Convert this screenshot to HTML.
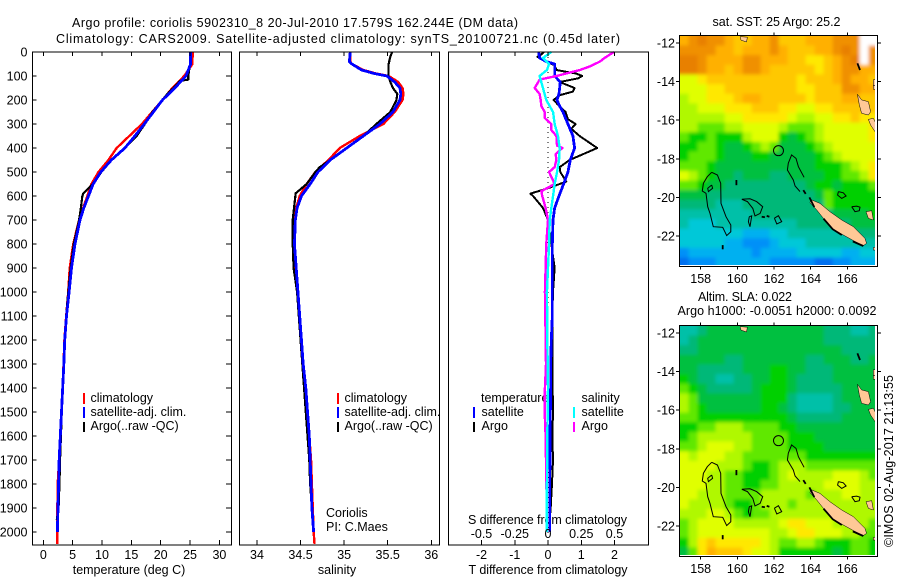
<!DOCTYPE html>
<html>
<head>
<meta charset="utf-8">
<style>
html,body{margin:0;padding:0;background:#fff;}
svg{display:block;}
text{font-family:"Liberation Sans",sans-serif;font-size:12.5px;fill:#000;}
.box{fill:none;stroke:#000;stroke-width:1.2;shape-rendering:crispEdges;}
.tick{stroke:#000;stroke-width:1;shape-rendering:crispEdges;}
.prof{fill:none;stroke-linejoin:round;shape-rendering:crispEdges;}
</style>
</head>
<body>
<svg id="chart" width="900" height="580" viewBox="0 0 900 580" xmlns="http://www.w3.org/2000/svg">
<defs>
<filter id="soft" x="-5%" y="-5%" width="110%" height="110%"><feGaussianBlur stdDeviation="1.8"/></filter>
<clipPath id="clip-map-1"><rect x="679.5" y="35.5" width="195.5" height="229.5"/></clipPath>
<clipPath id="clip-map-2"><rect x="679.5" y="325.5" width="195.5" height="229.5"/></clipPath>
</defs>
<text x="72" y="27" font-size="13" textLength="446" lengthAdjust="spacing">Argo profile: coriolis 5902310_8 20-Jul-2010 17.579S 162.244E (DM data)</text>
<text x="56" y="43" font-size="13" textLength="564" lengthAdjust="spacing">Climatology: CARS2009. Satellite-adjusted climatology: synTS_20100721.nc (0.45d later)</text>

<text x="129" y="574" text-anchor="middle">temperature (deg C)</text>
<text x="337" y="574" text-anchor="middle">salinity</text>
<text x="548" y="574" text-anchor="middle" textLength="159" lengthAdjust="spacing">T difference from climatology</text>
<text x="547.5" y="524" text-anchor="middle" textLength="159" lengthAdjust="spacing">S difference from climatology</text>

<g>
<rect x="83" y="393" width="2" height="11" fill="#f00"/>
<rect x="83" y="407" width="2" height="11" fill="#00f"/>
<rect x="83" y="422" width="2" height="10" fill="#000"/>
<text x="90.5" y="402">climatology</text>
<text x="90.5" y="416">satellite-adj. clim.</text>
<text x="90.5" y="430">Argo(..raw -QC)</text>
</g>
<g>
<rect x="337" y="393" width="2" height="11" fill="#f00"/>
<rect x="337" y="407" width="2" height="11" fill="#00f"/>
<rect x="337" y="422" width="2" height="10" fill="#000"/>
<text x="344.5" y="402">climatology</text>
<text x="344.5" y="416">satellite-adj. clim.</text>
<text x="344.5" y="430">Argo(..raw -QC)</text>
<text x="326" y="517">Coriolis</text>
<text x="326" y="531">PI: C.Maes</text>
</g>
<g>
<text x="481" y="402">temperature</text>
<text x="481.5" y="416">satellite</text>
<text x="481.5" y="430">Argo</text>
<rect x="473" y="407" width="2" height="11" fill="#00f"/>
<rect x="473" y="422" width="2" height="10" fill="#000"/>
<text x="581.5" y="402">salinity</text>
<text x="581.5" y="416">satellite</text>
<text x="581.5" y="430">Argo</text>
<rect x="573" y="407" width="2" height="11" fill="#0ff"/>
<rect x="573" y="422" width="2" height="10" fill="#f0f"/>
</g>

<text x="776.5" y="26" text-anchor="middle" textLength="128" lengthAdjust="spacing">sat. SST: 25 Argo: 25.2</text>
<text x="698" y="301" textLength="94" lengthAdjust="spacing">Altim. SLA: 0.022</text>
<text x="677.5" y="315" textLength="199" lengthAdjust="spacing">Argo h1000: -0.0051 h2000: 0.0092</text>
<text transform="translate(893,547) rotate(-90)" textLength="172" lengthAdjust="spacing">©IMOS 02-Aug-2017 21:13:55</text>

<g id="layer"></g>
</svg>
<script>
/* ---------- axis ticks ---------- */
const depthTicks = [0,100,200,300,400,500,600,700,800,900,1000,1100,1200,1300,1400,1500,1600,1700,1800,1900,2000];
const tempTicks = [0,5,10,15,20,25,30];
const salTicks = [34,34.5,35,35.5,36];
const tDiffTicks = [-2,-1,0,1,2];
const sDiffTicks = [-0.5,-0.25,0,0.25,0.5];
const lonTicks = [158,160,162,164,166];
const latTicks = [-12,-14,-16,-18,-20,-22];

/* ---------- temperature panel ---------- */
const tempClimDepth = [0,50,100,150,200,300,400,450,500,550,600,650,700,800,900,1000,1100,1200,1300,1400,1500,1600,1700,1800,1900,2000,2050];
const tempClim = [25.45,25.4,24.0,22,20.3,16.8,12.5,11.1,9.4,8.2,7.5,6.8,6.1,5.1,4.5,4.25,3.9,3.6,3.45,3.3,3.1,2.9,2.7,2.45,2.4,2.4,2.4];
const tempSatDepth = [0,50,100,150,200,250,300,350,400,450,500,550,600,650,700,800,900,1000,1100,1200,1300,1400,1500,1600,1700,1800,1900,2000];
const tempSat = [25.1,25.1,24.3,22.4,20.3,18.75,17.2,15.6,13.9,11.6,9.8,8.5,7.7,6.9,6.25,5.4,4.8,4.4,3.95,3.65,3.5,3.3,3.1,2.9,2.7,2.6,2.5,2.4];
const tempArgoDepth = [0,50,100,115,120,150,170,200,250,300,350,400,450,500,550,590,600,650,700,800,900,1000,1100,1200,1300,1400,1500,1600,1700,1800,1900,1950];
const tempArgo = [25,25,24.7,24.7,23.3,22.2,21.3,20.3,18.6,17.3,15.9,13.9,11.6,9.9,8.4,6.8,6.65,6.4,6.1,5.2,4.66,4.26,3.9,3.65,3.5,3.35,3.15,3.0,2.85,2.75,2.6,2.3];

/* ---------- salinity panel ---------- */
const salClimDepth = [0,40,50,75,90,100,125,150,175,200,250,300,350,400,450,500,550,600,650,700,800,900,1000,1100,1200,1300,1400,1500,1600,1700,1800,1900,2000,2050];
const salClim = [35.07,35.07,35.09,35.22,35.37,35.51,35.62,35.67,35.68,35.67,35.58,35.45,35.18,34.95,34.82,34.67,34.57,34.49,34.45,34.42,34.42,34.44,34.46,34.49,34.51,34.53,34.56,34.58,34.6,34.62,34.63,34.64,34.65,34.66];
const salSatDepth = [0,40,50,75,90,100,125,150,175,200,250,300,350,400,450,500,550,600,650,700,800,900,1000,1100,1200,1300,1400,1500,1600,1700,1800,1900,2000];
const salSat = [35.07,35.06,35.09,35.2,35.35,35.49,35.58,35.64,35.65,35.64,35.56,35.41,35.22,35.03,34.84,34.7,34.61,34.51,34.46,34.44,34.43,34.45,34.47,34.49,34.51,34.53,34.56,34.58,34.6,34.61,34.62,34.63,34.65];
const salArgoDepth = [0,20,50,100,125,150,175,200,250,300,350,400,450,480,500,550,590,600,700,800,900,1000,1100,1200,1300,1400,1500,1600,1700,1800,1900];
const salArgo = [35.55,35.53,35.51,35.51,35.53,35.56,35.61,35.6,35.53,35.37,35.22,35.03,34.84,34.72,34.67,34.57,34.44,34.44,34.41,34.41,34.42,34.46,34.48,34.5,34.52,34.54,34.56,34.58,34.6,34.61,34.63];

/* ---------- difference panel ---------- */
const dTSatDepth = [0,25,40,50,100,125,150,175,200,225,250,300,350,400,450,500,550,600,650,700,800,900,1000,1100,1200,1300,1400,1500,1600,1700,1800,1900,2000];
const dTSat = [-0.28,-0.25,-0.05,0.2,0.2,0.37,0.35,0.33,0.27,0.35,0.45,0.6,0.75,0.8,0.67,0.6,0.47,0.33,0.2,0.15,0.13,0.13,0.13,0.13,0.1,0.08,0.08,0.07,0.06,0.06,0.05,0.05,0.05];
const dTArgoDepth = [0,10,20,40,55,75,90,100,110,125,150,165,180,200,215,250,280,300,320,350,400,420,450,480,500,540,570,590,600,650,700,750,800,900,1000,1100,1200,1300,1400,1500,1600,1700,1800,1900,1950];
const dTArgo = [-0.13,-0.2,-0.32,-0.05,0.2,0.25,0.85,1.03,0.9,0.35,0.8,0.75,0.35,0.17,0.27,0.53,0.6,0.83,0.7,0.95,1.48,1.15,0.65,0.35,0.37,0.55,-0.05,-0.53,-0.45,-0.15,0,0.05,0.1,0.2,0.15,0.13,0.13,0.14,0.14,0.15,0.13,0.15,0.12,0.08,0.05];
const dSSatDepth = [0,25,50,75,100,150,200,250,300,350,400,450,500,550,600,650,700,800,900,1000,1200,1400,1600,1800,2000];
const dSSat = [0.025,-0.038,0.008,-0.008,-0.063,-0.038,-0.013,0.038,0.05,0.075,0.088,0.083,0.068,0.05,0.038,0.025,0.013,0.008,0,-0.008,-0.005,0,-0.005,-0.008,-0.008];
const dSArgoDepth = [0,25,40,60,75,100,115,150,175,200,225,250,275,300,325,350,390,400,425,450,480,500,550,580,600,650,700,800,900,1000,1100,1200,1300,1400,1500,1600,1700,1800,1850];
const dSArgo = [0.495,0.425,0.39,0.315,0.24,0.063,-0.063,-0.1,-0.063,-0.055,-0.05,-0.025,-0.025,0.025,0.025,0.063,0.068,0.108,0.058,0.063,0.05,0.008,0.05,-0.05,-0.043,-0.018,0,-0.013,-0.018,-0.023,-0.02,-0.018,-0.015,-0.023,-0.025,-0.018,-0.015,-0.013,-0.01];

/* ---------- map grids: colour-level per cell, -1 = no data ---------- */
const levelColors = ['#0070f0','#0090f8','#00b0f0','#00c8d8','#00c0a8','#00b878','#00c040','#00d000','#60e800','#b0f800','#e0ff00','#ffe800','#ffc800','#ffb000','#f09000','#e88000'];
const gridLonStart = 156.85;
const gridLonStep = 0.4911;
const gridLatStart = -11.63;
const gridLatStep = -0.4994;
const sstGrid = [
[13,14,15,14,14,13,12,12,13,13,14,12,12,12,13,13,13,14,14,14,-1,-1],
[14,14,14,14,13,13,12,13,13,13,14,13,12,12,12,13,13,14,15,14,-1,14],
[15,15,14,13,13,13,13,14,14,13,13,13,12,12,11,11,12,13,14,15,-1,14],
[15,15,14,13,13,12,13,14,14,13,12,12,12,12,12,11,12,13,14,14,13,13],
[10,10,11,12,12,12,12,12,12,12,12,12,12,11,12,12,12,13,14,13,13,12],
[10,10,10,11,11,12,12,12,12,12,12,12,12,11,11,12,12,12,14,14,13,13],
[9,10,10,11,11,11,12,13,13,12,12,12,12,12,11,12,12,12,13,13,12,12],
[9,9,10,10,10,11,11,11,12,12,12,11,11,10,10,11,11,12,12,12,12,12],
[9,9,9,9,9,10,10,11,11,11,11,11,10,9,9,10,10,11,11,12,11,11],
[9,9,8,8,8,9,9,10,10,10,10,9,8,8,8,9,10,10,10,10,10,11],
[8,7,7,8,7,7,7,9,10,10,10,7,6,7,8,9,10,10,10,10,10,11],
[7,7,8,8,7,6,6,7,8,9,8,6,6,6,7,8,9,10,10,10,10,10],
[7,8,8,8,7,6,6,6,7,7,6,6,6,6,6,7,8,9,10,10,10,10],
[8,8,8,7,6,6,6,6,6,6,6,6,6,6,6,7,7,7,8,9,10,11],
[10,9,8,7,6,6,5,6,6,6,5,5,6,6,6,6,7,7,8,8,9,11],
[8,8,7,6,6,5,5,5,5,5,5,5,5,5,6,7,7,6,7,7,7,8],
[6,6,6,5,5,5,5,5,5,5,5,5,5,5,5,6,8,7,7,7,7,7],
[5,5,5,5,4,4,4,5,5,5,5,5,5,5,5,5,8,7,7,7,7,7],
[4,4,4,4,4,4,4,4,5,5,5,5,5,5,5,5,5,6,6,6,6,7],
[4,3,3,3,4,4,4,4,4,4,4,4,4,5,5,5,5,5,5,6,6,6],
[3,3,3,3,3,3,3,2,2,2,3,3,4,4,4,4,4,4,4,5,5,5],
[3,3,3,3,3,2,2,1,1,1,2,3,3,3,4,4,4,4,4,4,4,4],
[1,2,2,2,2,2,2,2,1,2,2,2,2,3,3,3,3,3,2,2,3,3],
[0,1,1,1,2,2,2,2,2,2,1,1,1,1,1,0,0,1,1,2,2,2]
];
const slaGrid = [
[4,4,5,6,6,6,6,6,6,6,6,6,6,6,6,6,5,5,5,4,4,5],
[4,5,6,6,6,6,6,6,6,6,6,6,6,6,6,6,5,5,5,5,5,5],
[5,5,6,6,6,6,6,6,6,6,6,6,6,6,6,6,6,6,5,5,5,5],
[6,6,6,6,6,5,5,6,6,6,6,6,6,6,5,5,6,6,6,5,5,6],
[6,6,5,5,5,5,5,6,6,6,7,7,6,6,5,5,5,6,6,6,6,6],
[7,6,5,5,4,4,5,5,6,6,7,7,6,5,5,5,5,6,6,6,6,6],
[8,7,6,5,5,5,5,5,6,7,7,7,6,5,5,5,5,5,6,6,6,6],
[9,8,6,6,6,6,6,6,6,7,7,7,5,4,4,4,4,5,6,6,6,6],
[9,8,7,6,6,6,6,6,6,7,7,6,5,4,4,4,4,5,5,6,6,6],
[8,8,7,7,7,7,7,7,7,7,7,7,6,5,5,5,5,5,6,6,6,6],
[7,7,8,8,9,9,9,8,8,8,8,7,7,6,6,6,6,6,6,6,6,6],
[7,8,9,9,9,9,9,9,8,8,8,8,7,7,7,6,6,6,6,6,6,6],
[8,8,9,10,10,10,9,9,8,8,8,8,7,7,7,7,6,6,6,6,6,6],
[10,9,10,10,10,9,9,8,8,8,8,8,8,8,7,7,7,7,7,7,7,7],
[10,10,10,10,9,9,9,8,7,7,8,9,9,9,8,8,8,8,8,8,8,8],
[10,10,10,9,9,8,8,7,7,7,8,9,10,9,9,9,9,10,10,10,9,8],
[10,10,10,9,9,8,8,7,7,8,8,9,9,9,9,9,10,10,10,10,9,9],
[10,10,9,9,9,8,8,8,8,9,9,9,9,9,8,9,9,9,10,10,9,9],
[10,9,9,9,9,8,7,7,8,9,9,9,8,9,9,9,9,9,9,9,9,9],
[9,9,9,10,10,9,8,7,8,8,9,9,9,9,9,9,9,9,9,9,9,9],
[8,9,10,10,10,10,9,9,9,9,9,10,11,11,10,10,10,9,9,9,9,8],
[8,9,10,10,10,10,10,10,10,10,9,9,10,11,11,10,10,10,9,9,8,8],
[7,9,11,12,11,11,11,11,11,10,9,8,8,9,9,8,7,7,7,8,8,7],
[6,8,11,13,12,12,12,11,10,10,9,7,7,7,7,7,7,6,7,8,8,7]
];
const argoLon = 162.244;
const argoLat = -17.579;

/* ---------- coastlines: [lon,lat] vertices ---------- */
const landFilled = [
[[164.05,-20.13],[164.51,-20.31],[165.05,-20.74],[165.69,-21.17],[166.33,-21.52],[166.96,-22.12],[167.05,-22.38],[166.87,-22.5],[166.33,-22.24],[165.69,-21.9],[165.15,-21.6],[164.69,-21.08],[164.33,-20.65],[163.96,-20.27]],
[[166.55,-14.66],[166.78,-14.95],[167.15,-15.04],[167.27,-15.56],[167.15,-15.73],[166.78,-15.64],[166.65,-15.2]],
[[167.15,-15.96],[167.42,-15.9],[167.64,-16.33],[167.51,-16.59],[167.27,-16.25]],
[[160.15,-11.67],[160.55,-11.7],[160.5,-11.95],[160.2,-11.85]],
[[167.42,-13.9],[167.6,-13.9],[167.6,-14.2],[167.42,-14.2]],
[[167.42,-14.2],[167.6,-14.2],[167.6,-14.4],[167.42,-14.4]],
[[167.02,-20.74],[167.33,-20.69],[167.42,-21.17],[167.15,-21.09]],
[[167.42,-22.59],[167.6,-22.59],[167.6,-22.73],[167.42,-22.73]]
];
const reefLoops = [
[[158.6,-18.7],[158.91,-18.84],[159.09,-19.27],[159.11,-20.31],[159.38,-21.0],[159.64,-21.43],[159.64,-21.78],[159.42,-21.98],[159.2,-21.55],[158.69,-21.52],[158.51,-20.83],[158.38,-20.48],[158.29,-19.79],[158.09,-19.67],[158.15,-19.27],[158.36,-18.93],[158.6,-18.7]],
[[158.6,-19.36],[158.65,-19.53],[158.42,-19.7],[158.38,-19.53],[158.6,-19.36]],
[[160.24,-20.1],[160.69,-20.07],[161.05,-20.22],[161.38,-20.48],[161.24,-20.83],[160.96,-20.96],[160.84,-20.57],[160.55,-20.22],[160.24,-20.1]],
[[160.65,-21.0],[160.78,-20.96],[160.69,-21.52],[160.6,-21.26],[160.65,-21.0]],
[[162.02,-21.08],[162.24,-20.95],[162.42,-21.26],[162.15,-21.38],[162.02,-21.08]],
[[163.64,-18.96],[163.33,-18.41],[163.2,-17.98],[162.96,-17.8],[162.78,-18.23],[162.73,-18.58],[163.05,-19.1],[163.15,-19.41],[163.42,-19.7]],
[[165.51,-19.7],[165.78,-19.76],[165.93,-19.93],[165.69,-20.05],[165.47,-19.88],[165.51,-19.7]],
[[166.24,-20.48],[166.51,-20.45],[166.69,-20.51],[166.65,-20.69],[166.42,-20.74],[166.24,-20.48]]
];
const reefBars = [
[[159.95,-19.1],[159.95,-19.37]],
[[159.2,-22.47],[159.2,-22.69]],
[[163.6,-19.62],[163.73,-19.82]],
[[163.93,-20.0],[164.2,-20.5]],
[[164.7,-21.1],[165.2,-21.65],[165.7,-21.95]],
[[166.3,-22.28],[166.87,-22.52]],
[[161.33,-21.0],[161.5,-21.03]],
[[161.6,-20.96],[161.75,-21.0]],
[[166.55,-13.05],[166.69,-13.4]]
];

/* ---------- axis functions ---------- */
const NS = 'http://www.w3.org/2000/svg';
const layer = document.getElementById('layer');
const depthY = d => 52 + 0.24 * d;
const tempX = v => 43.3 + 5.87 * v;
const salX = v => 257 + 87.15 * (v - 34);
const dTX = v => 548 + 33.25 * v;
const dSX = v => 548 + 133 * v;
const lonX = v => 700.7 + 18.33 * (v - 158);
const latY = (v, top) => top + 7.5 + 19.3 * (-v - 12);

function mk(tag, parent) {
  const e = document.createElementNS(NS, tag);
  (parent || layer).appendChild(e);
  return e;
}
function addTick(x1, y1, x2, y2, parent) {
  const l = mk('line', parent);
  
  
  l.setAttribute('class', 'tick');
  l.setAttribute('x1', x1); l.setAttribute('y1', y1);
  l.setAttribute('x2', x2); l.setAttribute('y2', y2);
}
function addLabel(str, x, y, anchor, parent) {
  const t = mk('text', parent);
  
  
  t.setAttribute('x', x); t.setAttribute('y', y);
  t.setAttribute('text-anchor', anchor);
  t.textContent = str;
}
function addBox(x, y, w, h) {
  const r = mk('rect');
  
  
  r.setAttribute('class', 'box');
  r.setAttribute('x', x); r.setAttribute('y', y);
  r.setAttribute('width', w); r.setAttribute('height', h);
}
function addProfile(name, depths, values, xFn, color, width) {
  const p = mk('polyline');
  
  
  p.setAttribute('class', 'prof');
  p.setAttribute('stroke', color);
  p.setAttribute('stroke-width', width);
  p.setAttribute('points', values.map((v, i) => xFn(v).toFixed(2) + ',' + depthY(depths[i]).toFixed(2)).join(' '));
}

/* ---------- profile panels ---------- */
const P_TOP = 52, P_BOT = 545;
addProfile('temperature-climatology-line', tempClimDepth, tempClim, tempX, '#f00', 2.4);
addProfile('temperature-argo-line', tempArgoDepth, tempArgo, tempX, '#000', 2.2);
addProfile('temperature-satellite-line', tempSatDepth, tempSat, tempX, '#00f', 2.8);
addProfile('salinity-climatology-line', salClimDepth, salClim, salX, '#f00', 2.4);
addProfile('salinity-argo-line', salArgoDepth, salArgo, salX, '#000', 2.2);
addProfile('salinity-satellite-line', salSatDepth, salSat, salX, '#00f', 2.8);

const zeroLine = mk('line');


zeroLine.setAttribute('x1', dTX(0)); zeroLine.setAttribute('x2', dTX(0));
zeroLine.setAttribute('y1', P_TOP); zeroLine.setAttribute('y2', P_BOT);
zeroLine.setAttribute('stroke', '#000');
zeroLine.setAttribute('stroke-dasharray', '1 4');

addProfile('t-difference-argo-line', dTArgoDepth, dTArgo, dTX, '#000', 2);
addProfile('t-difference-satellite-line', dTSatDepth, dTSat, dTX, '#00f', 2.8);
addProfile('s-difference-argo-line', dSArgoDepth, dSArgo, dSX, '#f0f', 2.4);
addProfile('s-difference-satellite-line', dSSatDepth, dSSat, dSX, '#0ff', 2.4);

addBox(32.5, P_TOP, 199, P_BOT - P_TOP);
addBox(239.5, P_TOP, 200, P_BOT - P_TOP);
addBox(448.5, P_TOP, 200, P_BOT - P_TOP);

depthTicks.forEach(d => {
  addTick(32.5, depthY(d), 36.5, depthY(d));
  addTick(226, depthY(d), 231.5, depthY(d));
  addLabel(String(d), 27.5, depthY(d) + 4.5, 'end');
});
tempTicks.forEach(v => {
  addTick(tempX(v), P_TOP, tempX(v), P_TOP + 4);
  addTick(tempX(v), P_BOT - 5, tempX(v), P_BOT);
  addLabel(String(v), tempX(v), 559, 'middle');
});
salTicks.forEach(v => {
  addTick(salX(v), P_TOP, salX(v), P_TOP + 4);
  addTick(salX(v), P_BOT - 5, salX(v), P_BOT);
  addLabel(String(v), salX(v), 559, 'middle');
});
tDiffTicks.forEach(v => {
  addTick(dTX(v), P_TOP, dTX(v), P_TOP + 4);
  addTick(dTX(v), P_BOT - 5, dTX(v), P_BOT);
  addLabel(String(v), dTX(v), 559, 'middle');
});
sDiffTicks.forEach(v => {
  addLabel(String(v), dSX(v), 538, 'middle');
});

/* ---------- maps ---------- */
function drawMap(name, grid, top, clipId) {
  const wrap = mk('g');
  
  
  wrap.setAttribute('clip-path', 'url(#' + clipId + ')');
  const cells = mk('g', wrap);
  
  
  cells.setAttribute('filter', 'url(#soft)');
  grid.forEach((row, r) => {
    row.forEach((lev, c) => {
      const x0 = lonX(gridLonStart + c * gridLonStep);
      const x1 = lonX(gridLonStart + (c + 1) * gridLonStep);
      const y0 = latY(gridLatStart + r * gridLatStep, top);
      const y1 = latY(gridLatStart + (r + 1) * gridLatStep, top);
      const pad = 8;
      const cell = mk('rect', cells);
      
      
      const lx = c === 0 ? x0 - pad : x0;
      const rx = c === row.length - 1 ? x1 + pad : x1 + 0.5;
      const ty = r === 0 ? y0 - pad : y0;
      const by = r === grid.length - 1 ? y1 + pad : y1 + 0.5;
      cell.setAttribute('x', lx.toFixed(2));
      cell.setAttribute('y', ty.toFixed(2));
      cell.setAttribute('width', (rx - lx).toFixed(2));
      cell.setAttribute('height', (by - ty).toFixed(2));
      cell.setAttribute('fill', lev < 0 ? '#fff' : levelColors[lev]);
    });
  });
  const pts = ring => ring.map(p => lonX(p[0]).toFixed(1) + ',' + latY(p[1], top).toFixed(1)).join(' ');
  landFilled.forEach(ring => {
    const land = mk('polygon', wrap);
    
    
    land.setAttribute('points', pts(ring));
    land.setAttribute('fill', '#ffc896');
    land.setAttribute('stroke', '#000');
    land.setAttribute('stroke-width', '0.5');
  });
  reefLoops.forEach(ring => {
    const reef = mk('polyline', wrap);
    
    
    reef.setAttribute('points', pts(ring));
    reef.setAttribute('fill', 'none');
    reef.setAttribute('stroke', '#000');
    reef.setAttribute('stroke-width', '1');
  });
  reefBars.forEach(ring => {
    const bar = mk('polyline', wrap);
    
    
    bar.setAttribute('points', pts(ring));
    bar.setAttribute('fill', 'none');
    bar.setAttribute('stroke', '#000');
    bar.setAttribute('stroke-width', '1.8');
  });
  const mark = mk('circle', wrap);
  
  
  mark.setAttribute('cx', lonX(argoLon));
  mark.setAttribute('cy', latY(argoLat, top));
  mark.setAttribute('r', 5);
  mark.setAttribute('fill', 'none');
  mark.setAttribute('stroke', '#000');
  mark.setAttribute('stroke-width', '1');

  addBox(679.5, top, 198, 231);
  const bottom = top + 231;
  lonTicks.forEach(v => {
    addTick(lonX(v), top - 3, lonX(v), top);
    addTick(lonX(v), bottom, lonX(v), bottom + 3);
    addLabel(String(v), lonX(v), bottom + 16.5, 'middle');
  });
  latTicks.forEach(v => {
    addTick(676, latY(v, top), 679.5, latY(v, top));
    addTick(877.5, latY(v, top), 881, latY(v, top));
    addLabel(String(v), 675, latY(v, top) + 4.5, 'end');
  });
}
drawMap('sst-map', sstGrid, 35.5, 'clip-map-1');
drawMap('sla-map', slaGrid, 325.5, 'clip-map-2');
</script>
</body>
</html>
